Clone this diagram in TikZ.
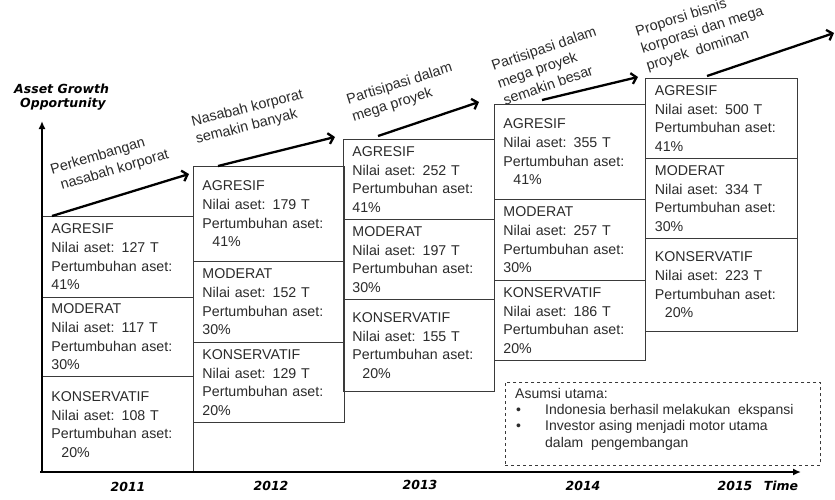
\documentclass[tikz,border=0pt]{standalone}
\usepackage{fontspec}
\setmainfont{Liberation Sans}
\newfontfamily\axisfont{DejaVu Sans}
\usetikzlibrary{arrows.meta}
\definecolor{txt}{HTML}{2B2B2B}
\definecolor{linec}{HTML}{3A3A3A}
\tikzset{
  sec/.style 2 args={draw=linec, line width=0.9pt, anchor=north west, inner xsep=9pt, inner ysep=0pt,
    text width=133pt, minimum width=#1pt, minimum height=#2pt, align=left, text=txt,
    font=\fontsize{14.2}{18.6}\selectfont},
  lbl/.style={align=left, text=txt, font=\fontsize{14.4}{18}\selectfont, inner sep=0pt, anchor=north west},
  trend/.style={line width=2.3pt, -{Straight Barb[length=5pt,width=11pt,line width=2.3pt]}},
  axis/.style={line width=2.4pt, -{Latex[length=8pt,width=7pt]}},
  axlbl/.style={font=\axisfont\bfseries\itshape\fontsize{12.5}{14.5}\selectfont, inner sep=0pt},
}
\begin{document}
\begin{tikzpicture}[x=1pt,y=-1pt]
\useasboundingbox (0,0) rectangle (835,499);
\fill[white] (0,0) rectangle (835,499);

% 2011
\node[sec={151}{81}] (c1a) at (42,216) {AGRESIF\\Nilai aset: 127 T\\Pertumbuhan aset:\\41\%};
\node[sec={151}{79}] (c1m) at (42,297) {MODERAT\\Nilai aset: 117 T\\Pertumbuhan aset:\\30\%};
\node[sec={151}{96}] (c1k) at (42,376) {KONSERVATIF\\Nilai aset: 108 T\\Pertumbuhan aset:\\\hspace*{10pt}20\%};
% 2012
\node[sec={150}{95}] (c2a) at (193,166) {AGRESIF\\Nilai aset: 179 T\\Pertumbuhan aset:\\\hspace*{10pt}41\%};
\node[sec={150}{81}] (c2m) at (193,261) {MODERAT\\Nilai aset: 152 T\\Pertumbuhan aset:\\30\%};
\node[sec={150}{80}] (c2k) at (193,342) {KONSERVATIF\\Nilai aset: 129 T\\Pertumbuhan aset:\\20\%};
% 2013
\node[sec={151}{80}] (c3a) at (343,139) {AGRESIF\\Nilai aset: 252 T\\Pertumbuhan aset:\\41\%};
\node[sec={151}{80}] (c3m) at (343,219) {MODERAT\\Nilai aset: 197 T\\Pertumbuhan aset:\\30\%};
\node[sec={151}{92}] (c3k) at (343,299) {KONSERVATIF\\Nilai aset: 155 T\\Pertumbuhan aset:\\\hspace*{10pt}20\%};
% 2014
\node[sec={151}{95}] (c4a) at (494,104) {AGRESIF\\Nilai aset: 355 T\\Pertumbuhan aset:\\\hspace*{10pt}41\%};
\node[sec={151}{81}] (c4m) at (494,199) {MODERAT\\Nilai aset: 257 T\\Pertumbuhan aset:\\30\%};
\node[sec={151}{80}] (c4k) at (494,280) {KONSERVATIF\\Nilai aset: 186 T\\Pertumbuhan aset:\\20\%};
% 2015
\node[sec={152}{80}] (c5a) at (645,78) {AGRESIF\\Nilai aset: 500 T\\Pertumbuhan aset:\\41\%};
\node[sec={152}{80}] (c5m) at (645,158) {MODERAT\\Nilai aset: 334 T\\Pertumbuhan aset:\\30\%};
\node[sec={152}{93}] (c5k) at (645,238) {KONSERVATIF\\Nilai aset: 223 T\\Pertumbuhan aset:\\\hspace*{10pt}20\%};

% trend arrows
\coordinate (a1s) at (52,216);  \coordinate (a1e) at (189,174);
\coordinate (a2s) at (218,166); \coordinate (a2e) at (335,137);
\coordinate (a3s) at (378,136); \coordinate (a3e) at (479,102);
\coordinate (a4s) at (542,100); \coordinate (a4e) at (638,77);
\coordinate (a5s) at (707,76);  \coordinate (a5e) at (834,33);
\draw[trend] (a1s) -- (a1e);
\draw[trend] (a2s) -- (a2e);
\draw[trend] (a3s) -- (a3e);
\draw[trend] (a4s) -- (a4e);
\draw[trend] (a5s) -- (a5e);

% labels
\node[lbl, rotate=16.5] (l1) at (49,164) {Perkembangan\\\hspace*{5pt}nasabah korporat};
\node[lbl, rotate=14.2] (l2) at (190,116) {Nasabah korporat\\semakin banyak};
\node[lbl, rotate=17.4] (l3) at (345,94) {Partisipasi dalam\\mega proyek};
\node[lbl, rotate=19] (l4) at (490,61) {Partisipasi dalam\\mega proyek\\semakin besar};
\node[lbl, rotate=17.5] (l5) at (634,26) {Proporsi bisnis\\korporasi dan mega\\proyek\ \ dominan};

% assumptions
\node[draw=linec, dashed, line width=0.7pt, anchor=north west, minimum width=315pt, minimum height=83pt, inner sep=0pt] (asm) at (505,382) {};
\node[anchor=north west, align=left, text=txt, inner sep=0pt, font=\fontsize{14}{16.3}\selectfont] (asmt) at (515,388)
  {Asumsi utama:\\
   \hspace*{1pt}\makebox[29pt][l]{\textbullet}Indonesia berhasil melakukan\ \ ekspansi\\
   \hspace*{1pt}\makebox[29pt][l]{\textbullet}Investor asing menjadi motor utama\\
   \hspace*{30pt}dalam\ \ pengembangan};

% axes
\coordinate (o) at (40,472);
\coordinate (ytop) at (42,121);
\coordinate (xend) at (801,472);
\draw[axis] (42,473) -- (ytop);
\draw[axis] (o) -- (xend);

\node[axlbl, align=left, anchor=west] (yl) at (14,97) {Asset Growth\\\hspace*{6pt}Opportunity};
\node[axlbl] (y1) at (128,487) {2011};
\node[axlbl] (y2) at (271,486) {2012};
\node[axlbl] (y3) at (420,485) {2013};
\node[axlbl] (y4) at (583,486) {2014};
\node[axlbl] (y5) at (735,486) {2015};
\node[axlbl] (tl) at (781,486) {Time};
\end{tikzpicture}
\end{document}
